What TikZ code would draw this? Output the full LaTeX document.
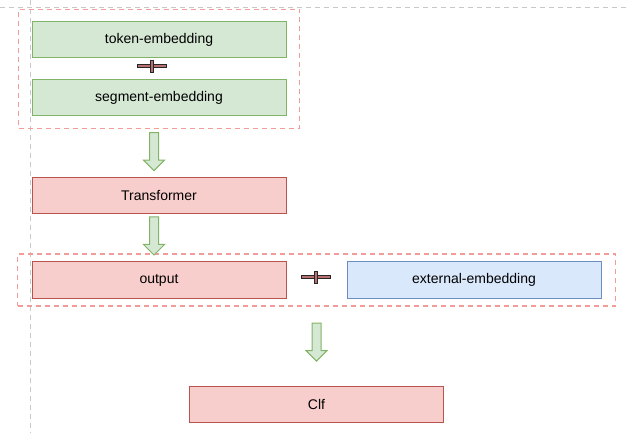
\documentclass[tikz,border=0pt]{standalone}
\usepackage{fontspec}
\setmainfont{Liberation Sans}
\usetikzlibrary{positioning,fit,shapes.arrows}

\definecolor{greenfill}{HTML}{D5E8D4}
\definecolor{greenline}{HTML}{82B366}
\definecolor{redfill}{HTML}{F8CECC}
\definecolor{redline}{HTML}{B85450}
\definecolor{bluefill}{HTML}{DAE8FC}
\definecolor{blueline}{HTML}{6C8EBF}
\definecolor{groupline}{HTML}{F19C99}
\definecolor{guideline}{HTML}{C8C8C8}
\definecolor{plusfill}{HTML}{B87070}

\begin{document}
\begin{tikzpicture}[x=1pt, y=-1pt, font=\fontsize{14}{16}\selectfont,
    main node/.style={rectangle, draw, line width=1pt, minimum width=254pt, minimum height=36pt, inner sep=0pt},
    green node/.style={main node, draw=greenline, fill=greenfill},
    red node/.style={main node, draw=redline, fill=redfill},
    blue node/.style={main node, draw=blueline, fill=bluefill},
    group box/.style={draw=groupline, line width=1.2pt, dash pattern=on 5pt off 4pt},
    guide/.style={draw=guideline, line width=1pt, dash pattern=on 5pt off 4pt},
    down arrow/.style={single arrow, rotate=-90, draw=greenline, fill=greenfill, line width=1pt,
        minimum height=38pt, minimum width=20pt, inner sep=4pt, single arrow head extend=6pt},
    plus bar/.style={rectangle, draw=black!85, fill=plusfill, line width=0.9pt, inner sep=0pt}]

    \useasboundingbox (0,0) rectangle (630,433);

    % guide lines
    \draw[guide] (0,8) -- (630,8);
    \draw[guide] (30,0) -- (30,433);

    % embeddings
    \node[green node] (tok) at (159,40) {token-embedding};
    \node[green node] (seg) at (159,98) {segment-embedding};
    \node[plus bar, minimum width=29pt, minimum height=2.5pt] (plus1) at (152,66) {};
    \node[plus bar, minimum width=2.5pt, minimum height=12pt] at (plus1) {};
    \node[group box, fit=(tok)(seg), inner xsep=13pt, inner ysep=12pt] (grp1) {};

    % encoder
    \node[red node] (trans) at (159,196) {Transformer};

    % output and external
    \node[red node] (out) at (159,280) {output};
    \node[blue node] (ext) at (474,280) {external-embedding};
    \node[plus bar, minimum width=29pt, minimum height=2.5pt] (plus2) at (316,277) {};
    \node[plus bar, minimum width=2.5pt, minimum height=12pt] at (plus2) {};
    \node[group box, fit=(out)(ext), inner xsep=14pt, inner ysep=7.5pt] (grp2) {};

    % classifier
    \node[red node] (clf) at (316.5,404) {Clf};

    % arrows
    \node[down arrow, anchor=tail] (arr1) at ([xshift=-5pt, yshift=-3pt]grp1.south) {};
    \node[down arrow, anchor=tail] (arr2) at ([xshift=-5pt, yshift=-2pt]trans.south) {};
    \node[down arrow, anchor=tail] (arr3) at ([yshift=-16pt]grp2.south) {};

\end{tikzpicture}
\end{document}
